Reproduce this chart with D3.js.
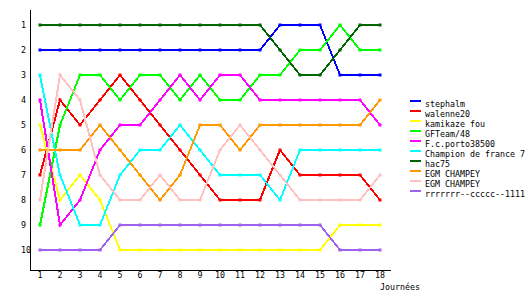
<!DOCTYPE html>
<html><head><meta charset="utf-8">
<script src="https://cdn.jsdelivr.net/npm/d3@7"></script>
<style>body{margin:0;background:#fff}svg{display:block}text{font-family:"DejaVu Sans Mono",monospace;font-size:8.3px;fill:#000}</style>
</head><body>
<script>
const days = d3.range(1, 19);
const names = ["stephalm","walenne20","kamikaze fou","GFTeam/48","F.c.porto38500","Champion de france 7","hac75","EGM CHAMPEY","EGM CHAMPEY","rrrrrrr--ccccc--1111"];
const colors = ["#0000ff","#ff0000","#ffff00","#00ff00","#ff00ff","#00ffff","#006600","#ff9900","#ffc0c0","#a060f0"];
const stephalm   = [2,2,2,2,2,2,2,2,2,2,2,2,1,1,1,3,3,3];
const walenne20  = [7,4,5,4,3,4,5,6,7,8,8,8,6,7,7,7,7,8];
const kamikaze   = [5,8,7,8,10,10,10,10,10,10,10,10,10,10,10,9,9,9];
const gfteam     = [9,5,3,3,4,3,3,4,3,4,4,3,3,2,2,1,2,2];
const fcporto    = [4,9,8,6,5,5,4,3,4,3,3,4,4,4,4,4,4,5];
const champion   = [3,7,9,9,7,6,6,5,6,7,7,7,8,6,6,6,6,6];
const hac75      = [1,1,1,1,1,1,1,1,1,1,1,1,2,3,3,2,1,1];
const egm1       = [6,6,6,5,6,7,8,7,5,5,6,5,5,5,5,5,5,4];
const egm2       = [8,3,4,7,8,8,7,8,8,6,5,6,7,8,8,8,8,7];
const rrr        = [10,10,10,10,9,9,9,9,9,9,9,9,9,9,9,10,10,10];
const series = [stephalm,walenne20,kamikaze,gfteam,fcporto,champion,hac75,egm1,egm2,rrr];
const yTicks = d3.range(1, 11);

const W = 530, H = 300;
const svg = d3.select("body").append("svg").attr("width", W).attr("height", H);
const x = d3.scaleLinear().domain([1, 18]).range([40, 380]);
const y = d3.scaleLinear().domain([1, 10]).range([25, 250]);

// axes
svg.append("line").attr("x1", 30.5).attr("x2", 30.5).attr("y1", 10).attr("y2", 270).attr("stroke", "#000").attr("stroke-width", 1);
svg.append("line").attr("x1", 30).attr("x2", 391).attr("y1", 270.5).attr("y2", 270.5).attr("stroke", "#000").attr("stroke-width", 1);
svg.selectAll(".yl").data(yTicks).enter().append("text")
  .attr("x", 21).attr("y", d => y(d) + 3).text(d => d);
svg.selectAll(".xl").data(days).enter().append("text")
  .attr("x", d => x(d)).attr("y", 278).attr("text-anchor", "middle").text(d => d);
svg.append("text").attr("x", 380).attr("y", 290).text("Journées");

const line = d3.line().x((d, i) => x(days[i])).y(d => y(d));
series.forEach((s, k) => {
  const g = svg.append("g");
  g.append("path").attr("d", line(s)).attr("fill", "none").attr("stroke", colors[k])
    .attr("stroke-width", 2).attr("shape-rendering", "crispEdges");
  g.selectAll("rect").data(s).enter().append("rect")
    .attr("x", (d, i) => Math.round(x(days[i])) - 1.5).attr("y", d => Math.round(y(d)) - 1.5)
    .attr("width", 3).attr("height", 3).attr("fill", colors[k]);
});

// legend
const lg = svg.append("g");
names.forEach((n, k) => {
  lg.append("rect").attr("x", 410).attr("y", 100 + k * 10).attr("width", 11).attr("height", 2).attr("fill", colors[k]);
  lg.append("text").attr("x", 425).attr("y", 107 + k * 10).text(n);
});
</script>
</body></html>
